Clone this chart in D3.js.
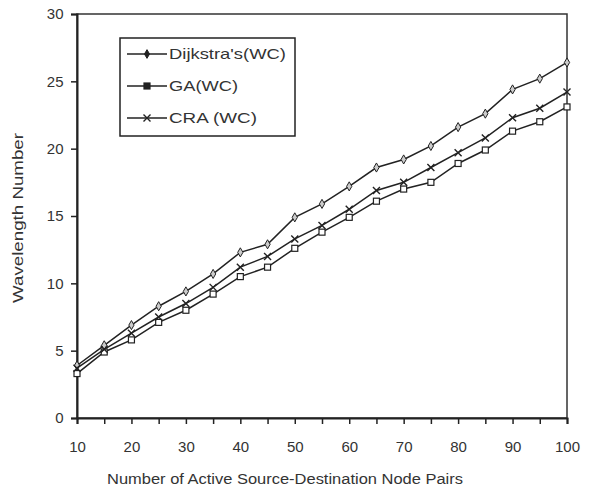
<!DOCTYPE html>
<html>
<head>
<meta charset="utf-8">
<script src="https://cdn.jsdelivr.net/npm/d3@7"></script>
<style>
  body { margin: 0; background: #fff; }
  text { font-family: "Liberation Sans", Arial, sans-serif; fill: #333; }
</style>
</head>
<body>
<div id="chart"></div>
<script>
const width = 593
const height = 492

// data
const pairs = [10, 15, 20, 25, 30, 35, 40, 45, 50, 55, 60, 65, 70, 75, 80, 85, 90, 95, 100]
const dijkstra = [3.9, 5.4, 6.9, 8.3, 9.4, 10.7, 12.3, 12.9, 14.9, 15.9, 17.2, 18.6, 19.2, 20.2, 21.6, 22.6, 24.4, 25.2, 26.4]
const ga = [3.3, 4.9, 5.8, 7.1, 8.0, 9.2, 10.5, 11.2, 12.6, 13.8, 14.9, 16.1, 17.0, 17.5, 18.9, 19.9, 21.3, 22.0, 23.1]
const cra = [3.7, 5.1, 6.3, 7.5, 8.5, 9.7, 11.2, 12.0, 13.3, 14.3, 15.5, 16.9, 17.5, 18.6, 19.7, 20.8, 22.3, 23.0, 24.2]
const seriesNames = ["Dijkstra's(WC)", "GA(WC)", "CRA (WC)"]
const xTicks = [10, 20, 30, 40, 50, 60, 70, 80, 90, 100]
const yTicks = [0, 5, 10, 15, 20, 25, 30]

const margin = {left: 77, right: 26, top: 14, bottom: 74}

let svg = d3.select("#chart")
            .append("svg")
            .attr("width", width)
            .attr("height", height)

let x = d3.scaleLinear().domain([10, 100]).range([margin.left, width - margin.right])
let y = d3.scaleLinear().domain([0, 30]).range([height - margin.bottom, margin.top])

// frame
svg.append("rect")
   .attr("x", x(10)).attr("y", y(30))
   .attr("width", x(100) - x(10)).attr("height", y(0) - y(30))
   .attr("fill", "none").attr("stroke", "#333").attr("stroke-width", 1.5)

// x axis
let xAxis = svg.append("g")
   .attr("transform", "translate(0," + y(0) + ")")
   .call(d3.axisBottom(x).tickValues(pairs).tickSize(6).tickFormat(d => xTicks.includes(d) ? d : ""))
xAxis.select(".domain").attr("stroke", "#222").attr("stroke-width", 2)
xAxis.selectAll(".tick line").attr("stroke", "#222").attr("stroke-width", 1.5)
xAxis.selectAll("text").attr("font-size", 15).attr("y", 34).attr("dy", 0).style("fill", "#333")

// y axis
let yAxis = svg.append("g")
   .attr("transform", "translate(" + x(10) + ",0)")
   .call(d3.axisLeft(y).tickValues(yTicks).tickSize(6))
yAxis.select(".domain").attr("stroke", "#222").attr("stroke-width", 2)
yAxis.selectAll(".tick line").attr("stroke", "#222").attr("stroke-width", 1.5)
yAxis.selectAll("text").attr("font-size", 15).attr("dx", "-0.3em").style("fill", "#333")

// axis titles (the scan's lettering is wider than Arial)
svg.append("text")
   .attr("x", 107).attr("y", 484)
   .attr("font-size", 14)
   .attr("textLength", 356).attr("lengthAdjust", "spacingAndGlyphs")
   .text("Number of Active Source-Destination Node Pairs")

svg.append("text")
   .attr("transform", "translate(23,303) rotate(-90)")
   .attr("font-size", 14)
   .attr("textLength", 170).attr("lengthAdjust", "spacingAndGlyphs")
   .text("Wavelength Number")

// markers
function drawMarker(g, kind, cx, cy, filled) {
  if (kind == "diamond") {
    g.append("path")
     .attr("d", d3.symbol(d3.symbolDiamond, filled ? 22 : 24)())
     .attr("transform", "translate(" + cx + "," + cy + ")")
     .attr("fill", filled ? "#222" : "#ccc").attr("stroke", "#222").attr("stroke-width", 1)
  } else if (kind == "square") {
    g.append("rect")
     .attr("x", cx - 3).attr("y", cy - 3).attr("width", 6).attr("height", 6)
     .attr("fill", filled ? "#222" : "#fff").attr("stroke", "#222").attr("stroke-width", 1.2)
  } else {
    g.append("path")
     .attr("d", "M" + (cx - 3.5) + "," + (cy - 3.5) + "L" + (cx + 3.5) + "," + (cy + 3.5) +
                "M" + (cx - 3.5) + "," + (cy + 3.5) + "L" + (cx + 3.5) + "," + (cy - 3.5))
     .attr("stroke", "#222").attr("stroke-width", 1.4)
  }
}

let series = [
  {name: seriesNames[0], values: dijkstra, marker: "diamond", len: 117},
  {name: seriesNames[1], values: ga, marker: "square", len: 69},
  {name: seriesNames[2], values: cra, marker: "cross", len: 88}
]

let line = d3.line()
  .x((d, i) => x(pairs[i]))
  .y(d => y(d))

series.forEach(function(s) {
  let g = svg.append("g")
  g.append("path")
   .datum(s.values)
   .attr("d", line)
   .attr("fill", "none").attr("stroke", "#222").attr("stroke-width", 1.5)
  s.values.forEach(function(v, i) {
    drawMarker(g, s.marker, x(pairs[i]), y(v), false)
  })
})

// legend
let legend = svg.append("g").attr("id", "legend")
legend.append("rect")
      .attr("x", 120).attr("y", 38).attr("width", 175).attr("height", 98)
      .attr("fill", "#fff").attr("stroke", "#222").attr("stroke-width", 1.5)

series.forEach(function(s, i) {
  let ly = 54 + i * 32
  legend.append("line")
        .attr("x1", 127).attr("x2", 167).attr("y1", ly).attr("y2", ly)
        .attr("stroke", "#222").attr("stroke-width", 1.5)
  drawMarker(legend, s.marker, 147, ly, true)
  legend.append("text")
        .attr("x", 169).attr("y", ly).attr("dy", "0.36em")
        .attr("font-size", 15)
        .attr("textLength", s.len).attr("lengthAdjust", "spacingAndGlyphs")
        .text(s.name)
})
</script>
</body>
</html>
